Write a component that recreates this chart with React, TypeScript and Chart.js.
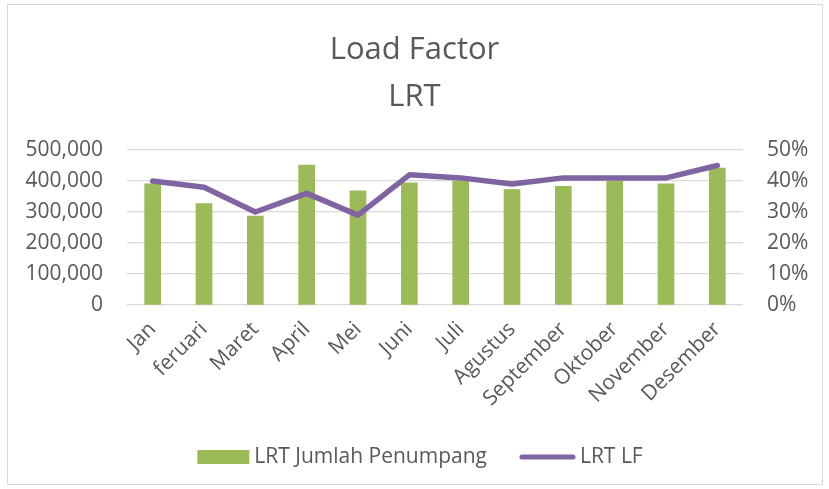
import React, { useEffect, useRef } from "react";
import { Chart, registerables } from "chart.js";

Chart.register(...registerables);

const categories = ["Jan", "feruari", "Maret", "April", "Mei", "Juni", "Juli", "Agustus", "September", "Oktober", "November", "Desember"];
const passengers = [391000, 327000, 287000, 451000, 368000, 394000, 400000, 372000, 383000, 399000, 391000, 442000];
const loadFactor = [0.40, 0.38, 0.30, 0.36, 0.29, 0.42, 0.41, 0.39, 0.41, 0.41, 0.41, 0.45];
const titleLines = ["Load Factor", "LRT"];
const barLabel = "LRT Jumlah Penumpang";
const lineLabel = "LRT LF";

const FONT = "'Open Sans', sans-serif";
const TEXT = "#595959";
const GREEN = "#9BBB59";
const PURPLE = "#8064A2";

const frame = {
  id: "frame",
  beforeDraw(chart: any) {
    const { ctx, width, height } = chart;
    ctx.save();
    ctx.fillStyle = "#ffffff";
    ctx.fillRect(0, 0, width, height);
    ctx.strokeStyle = "#D9D9D9";
    ctx.lineWidth = 1;
    ctx.strokeRect(7.5, 4.5, 815, 480);
    ctx.restore();
  },
};

const customLegend = {
  id: "customLegend",
  afterDraw(chart: any) {
    const { ctx } = chart;
    const ds = chart.data.datasets;
    const bar = ds.find((d: any) => d.type === "bar");
    const line = ds.find((d: any) => d.type === "line");
    ctx.save();
    ctx.font = `21px ${FONT}`;
    ctx.textBaseline = "middle";
    const cy = 457;
    const w1 = ctx.measureText(bar.label).width;
    const w2 = ctx.measureText(line.label).width;
    const total = 52 + 5 + w1 + 32 + 57 + 4 + w2;
    let x = 420 - total / 2;
    ctx.fillStyle = bar.backgroundColor;
    ctx.fillRect(x, cy - 7, 52, 14);
    x += 57;
    ctx.fillStyle = TEXT;
    ctx.textAlign = "left";
    ctx.fillText(bar.label, x, cy);
    x += w1 + 32;
    ctx.strokeStyle = line.borderColor;
    ctx.lineWidth = 5;
    ctx.lineCap = "round";
    ctx.beginPath();
    ctx.moveTo(x + 3, cy);
    ctx.lineTo(x + 54, cy);
    ctx.stroke();
    x += 61;
    ctx.fillText(line.label, x, cy);
    ctx.restore();
  },
};

export default function App() {
  const ref = useRef<HTMLCanvasElement | null>(null);
  useEffect(() => {
    document.body.style.margin = "0";
    const canvas = ref.current;
    if (!canvas) return;
    const chart = new Chart(canvas, {
      data: {
        labels: categories,
        datasets: [
          {
            type: "bar",
            label: barLabel,
            data: passengers,
            yAxisID: "y",
            backgroundColor: GREEN,
            barThickness: 16,
            order: 1,
          } as any,
          {
            type: "line",
            label: lineLabel,
            data: loadFactor,
            yAxisID: "y1",
            borderColor: PURPLE,
            backgroundColor: PURPLE,
            borderWidth: 5.5,
            pointRadius: 0,
            tension: 0,
            borderCapStyle: "round",
            borderJoinStyle: "round",
            order: 0,
          } as any,
        ],
      },
      options: {
        responsive: false,
        animation: false,
        layout: { padding: { top: 0, left: 0, right: 0, bottom: 64 } },
        plugins: {
          legend: { display: false },
          tooltip: { enabled: false },
          title: {
            display: true,
            text: titleLines,
            color: TEXT,
            font: { family: FONT, size: 31, weight: "normal", lineHeight: 1.516 },
            padding: { top: 27, bottom: 29 },
          },
        },
        scales: {
          x: {
            grid: { display: false },
            border: { display: false },
            ticks: {
              color: TEXT,
              font: { family: FONT, size: 21 },
              minRotation: 45,
              maxRotation: 45,
              autoSkip: false,
              padding: 4,
            },
            afterFit(scale: any) {
              scale.height = 120;
            },
          },
          y: {
            position: "left",
            min: 0,
            max: 500000,
            grid: { color: "#D9D9D9", lineWidth: 1.3, drawTicks: false },
            border: { display: false },
            ticks: {
              stepSize: 100000,
              color: TEXT,
              padding: 24,
              font: { family: FONT, size: 21 },
              callback: (v: any) => Number(v).toLocaleString("en-US"),
            },
            afterFit(scale: any) {
              scale.width = 127;
            },
          },
          y1: {
            position: "right",
            min: 0,
            max: 0.5,
            grid: { drawOnChartArea: false, drawTicks: false },
            border: { display: false },
            ticks: {
              stepSize: 0.1,
              color: TEXT,
              padding: 24,
              font: { family: FONT, size: 21 },
              callback: (v: any) => `${Math.round(Number(v) * 100)}%`,
            },
            afterFit(scale: any) {
              scale.width = 86;
            },
          },
        },
      } as any,
      plugins: [frame, customLegend],
    });
    return () => chart.destroy();
  }, []);
  return (
    <div style={{ width: 829, height: 489 }}>
      <canvas ref={ref} width={829} height={489} style={{ display: "block" }} />
    </div>
  );
}
